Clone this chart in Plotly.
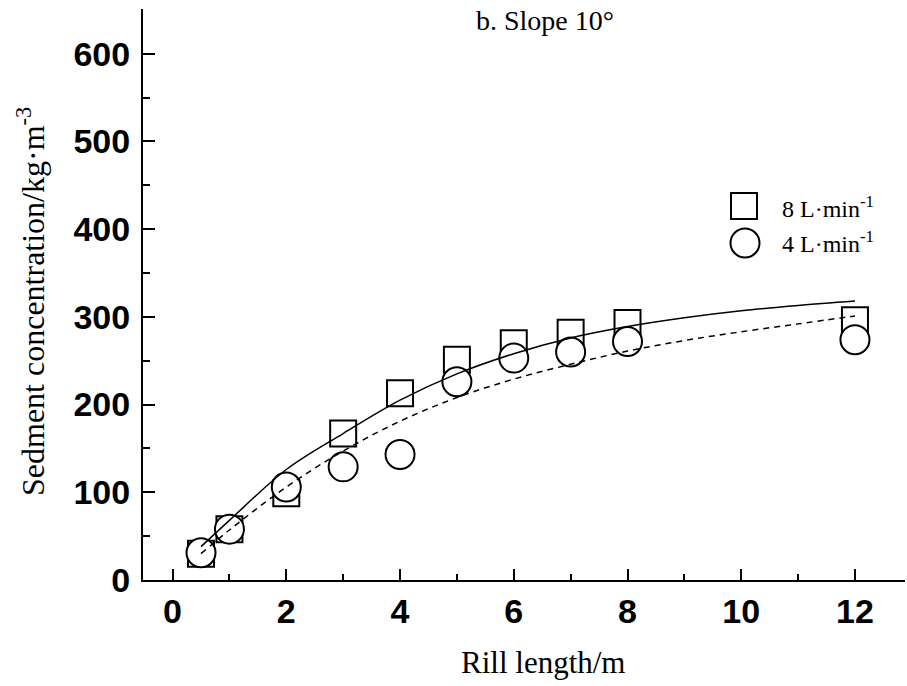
import plotly.graph_objects as go

# ---- data ----
rill_x = [0.5, 1, 2, 3, 4, 5, 6, 7, 8, 12]
sed_8 = [30, 58, 99, 167, 213, 251, 270, 282, 293, 296]
sed_4 = [31, 58, 106, 129, 143, 226, 253, 260, 272, 274]

fit_x = [0.5, 1, 2, 3, 4, 5, 6, 7, 8, 9, 10, 11, 12]
fit_8 = [38, 68, 126, 167, 205, 235, 258, 276, 289, 299, 307, 313, 318]
fit_4 = [30, 57, 106, 147, 181, 208, 229, 246, 261, 273, 283, 292, 301]

x_ticks = [0, 2, 4, 6, 8, 10, 12]
y_ticks = [0, 100, 200, 300, 400, 500, 600]

legend_labels = ["8 L·min<sup>-1</sup>", "4 L·min<sup>-1</sup>"]

SERIF = "Liberation Serif"
SANS = "Liberation Sans"

W, H = 907, 686
ML, MR, MT, MB = 143, 2, 9, 106
PW, PH = W - ML - MR, H - MT - MB


def px(xp):
    return (xp - ML) / PW


def py(yp):
    return (H - MB - yp) / PH


fig = go.Figure()

fig.add_trace(go.Scatter(
    x=rill_x, y=sed_8, mode="markers", showlegend=False,
    marker=dict(symbol="square", size=26, color="rgba(0,0,0,0)",
                line=dict(color="black", width=2)),
))
fig.add_trace(go.Scatter(
    x=rill_x, y=sed_4, mode="markers", showlegend=False,
    marker=dict(symbol="circle", size=29, color="white",
                line=dict(color="black", width=2)),
))
fig.add_trace(go.Scatter(
    x=fit_x, y=fit_8, mode="lines", showlegend=False,
    line=dict(color="black", width=1.5, shape="spline", smoothing=1.0),
))
fig.add_trace(go.Scatter(
    x=fit_x, y=fit_4, mode="lines", showlegend=False,
    line=dict(color="black", width=1.5, shape="spline", smoothing=1.0, dash="6px,5px"),
))

# legend keys (drawn manually so they can be large)
shapes = [
    dict(type="rect", xref="paper", yref="paper", xsizemode="pixel", ysizemode="pixel",
         xanchor=px(744), yanchor=py(206), x0=-13, x1=13, y0=-13, y1=13,
         line=dict(color="black", width=2), fillcolor="rgba(0,0,0,0)"),
    dict(type="circle", xref="paper", yref="paper", xsizemode="pixel", ysizemode="pixel",
         xanchor=px(745), yanchor=py(243), x0=-14.5, x1=14.5, y0=-14.5, y1=14.5,
         line=dict(color="black", width=2), fillcolor="rgba(0,0,0,0)"),
]

annotations = [
    dict(text=legend_labels[0], xref="paper", yref="paper", x=px(780), y=py(207),
         xanchor="left", yanchor="middle", showarrow=False,
         font=dict(family=SERIF, size=24, color="black")),
    dict(text=legend_labels[1], xref="paper", yref="paper", x=px(780), y=py(242),
         xanchor="left", yanchor="middle", showarrow=False,
         font=dict(family=SERIF, size=24, color="black")),
    dict(text="b. Slope 10°", xref="paper", yref="paper", x=px(545), y=py(21),
         xanchor="center", yanchor="middle", showarrow=False,
         font=dict(family=SERIF, size=28, color="black")),
    dict(text="Rill length/m", xref="paper", yref="paper", x=px(543), y=py(662),
         xanchor="center", yanchor="middle", showarrow=False,
         font=dict(family=SERIF, size=31, color="black")),
    dict(text="Sedment concentration/kg·m<sup>-3</sup>", xref="paper", yref="paper",
         x=px(31), y=py(302), textangle=-90,
         xanchor="center", yanchor="middle", showarrow=False,
         font=dict(family=SERIF, size=32, color="black")),
]

fig.update_layout(
    width=W, height=H,
    margin=dict(l=ML, r=MR, t=MT, b=MB, pad=0),
    paper_bgcolor="white", plot_bgcolor="white",
    shapes=shapes, annotations=annotations,
    showlegend=False,
)

fig.update_xaxes(
    range=[-0.52, 12.88], tickvals=x_ticks, ticktext=[str(v) for v in x_ticks],
    showgrid=False, zeroline=False, showline=True, linecolor="black", linewidth=2,
    ticks="inside", ticklen=11, tickwidth=2, tickcolor="black",
    minor=dict(dtick=1, tick0=0, ticks="inside", ticklen=6, tickwidth=2, tickcolor="black", showgrid=False),
    tickfont=dict(family=SANS, size=34, color="black", weight="bold"),
    ticklabelstandoff=0,
)
fig.update_yaxes(
    range=[0, 651], tickvals=y_ticks, ticktext=[str(v) for v in y_ticks],
    showgrid=False, zeroline=False, showline=True, linecolor="black", linewidth=2,
    ticks="inside", ticklen=12, tickwidth=2, tickcolor="black",
    minor=dict(dtick=50, tick0=0, ticks="inside", ticklen=7, tickwidth=2, tickcolor="black", showgrid=False),
    tickfont=dict(family=SANS, size=34, color="black", weight="bold"),
    ticklabelstandoff=4,
)

fig.write_html("out.html")
